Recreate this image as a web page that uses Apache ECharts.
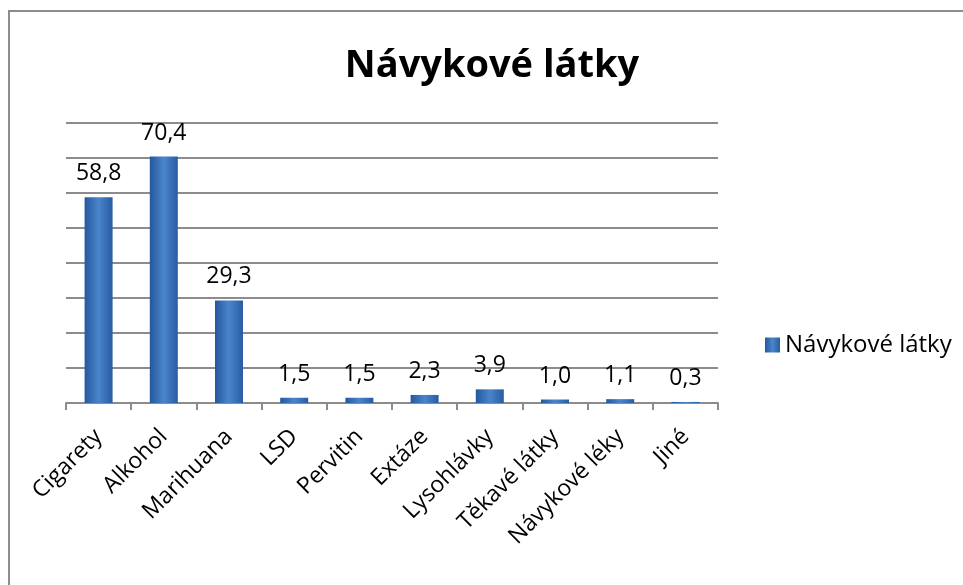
<!DOCTYPE html>
<html>
<head>
<meta charset="utf-8">
<script src="https://cdn.jsdelivr.net/npm/echarts@6/dist/echarts.min.js"></script>
<style>
  html, body { margin: 0; padding: 0; background: #fff; }
  #chart { width: 963px; height: 585px; }
  #frame {
    position: absolute; left: 8px; top: 10px; right: 0; bottom: 0;
    border-top: 2px solid #8c8c8c; border-left: 2px solid #8c8c8c;
    pointer-events: none;
  }
</style>
</head>
<body>
<div id="chart"></div>
<div id="frame"></div>
<script>
var categories = ["Cigarety", "Alkohol", "Marihuana", "LSD", "Pervitin", "Extáze", "Lysohlávky", "Těkavé látky", "Návykové léky", "Jiné"];
var values = [58.8, 70.4, 29.3, 1.5, 1.5, 2.3, 3.9, 1.0, 1.1, 0.3];
var seriesName = "Návykové látky";

var font = "'Open Sans', 'Noto Sans', sans-serif";
var barColor = new echarts.graphic.LinearGradient(0, 0, 1, 0, [
  { offset: 0, color: "#24589c" },
  { offset: 0.5, color: "#4a85cc" },
  { offset: 1, color: "#285ca2" }
]);

var chart = echarts.init(document.getElementById("chart"));
var option = {
  animation: false,
  title: {
    text: "Návykové látky",
    left: 487,
    textAlign: "center",
    top: 42,
    textStyle: { fontFamily: font, fontSize: 38, fontWeight: "bold", color: "#000" }
  },
  legend: {
    data: [seriesName],
    left: 760,
    top: 328,
    icon: "rect",
    itemWidth: 15,
    itemHeight: 15,
    itemGap: 5,
    textStyle: { fontFamily: font, fontSize: 24, color: "#000" }
  },
  grid: {
    left: 66,
    right: 245,
    top: 123,
    bottom: 182
  },
  xAxis: {
    type: "category",
    data: categories,
    axisLine: { lineStyle: { color: "#8c8c8c", width: 2 } },
    axisTick: { show: true, length: 7, lineStyle: { color: "#8c8c8c", width: 2 } },
    axisLabel: {
      rotate: 45,
      margin: 30,
      interval: 0,
      fontFamily: font,
      fontSize: 23,
      color: "#000"
    }
  },
  yAxis: {
    type: "value",
    min: 0,
    max: 80,
    interval: 10,
    axisLine: { show: false },
    axisTick: { show: false },
    axisLabel: { show: false },
    splitLine: { lineStyle: { color: "#8c8c8c", width: 2 } }
  },
  series: [
    {
      name: seriesName,
      type: "bar",
      data: values,
      barWidth: 28,
      itemStyle: { color: barColor },
      label: {
        show: true,
        position: "top",
        distance: 12,
        fontFamily: font,
        fontSize: 23,
        color: "#000",
        formatter: function (p) { return p.value.toFixed(1).replace(".", ","); }
      }
    }
  ]
};
chart.setOption(option);
</script>
</body>
</html>
